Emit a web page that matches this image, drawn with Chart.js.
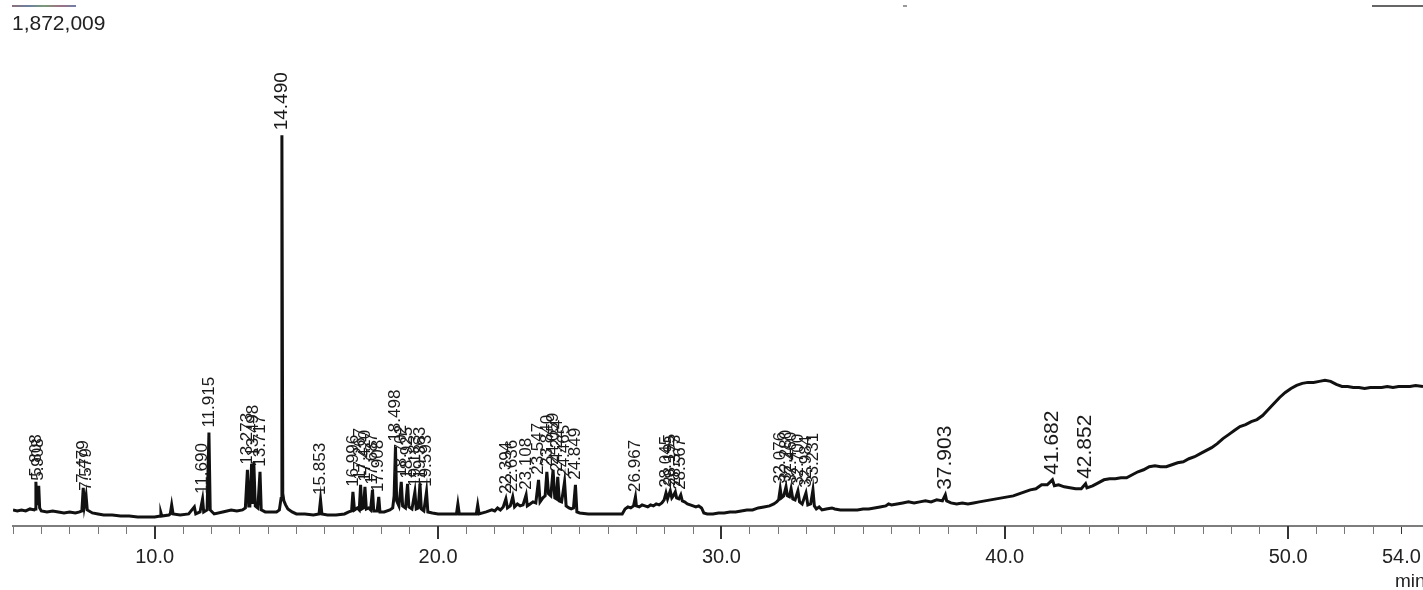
<!DOCTYPE html>
<html>
<head>
<meta charset="utf-8">
<script src="https://cdn.jsdelivr.net/npm/chart.js@4.4.1/dist/chart.umd.min.js"></script>
<style>
  html, body { margin: 0; padding: 0; background: #fff; }
  #wrap { position: relative; width: 1423px; height: 590px; overflow: hidden; }
  #chart { position: absolute; left: 0; top: 0; }
  .scaleTop { position: absolute; left: 12px; top: 11px; font: 21px 'Liberation Sans', Arial, sans-serif; color: #222; }
  .unit { position: absolute; left: 1395px; top: 570px; font: 19px 'Liberation Sans', Arial, sans-serif; color: #222; }
  .rule { position: absolute; height: 2px; }
</style>
</head>
<body>
<div id="wrap">
  <canvas id="chart" width="1423" height="590"></canvas>
  <div class="rule" style="left:12px;top:5px;width:64px;background:linear-gradient(90deg,#8c6f7a,#6d7fa0,#7a9a7a,#a07080,#6f80a8);"></div>
  <div class="rule" style="left:1372px;top:5px;width:51px;background:#666;"></div>
  <div class="rule" style="left:903px;top:5px;width:4px;background:#999;"></div>
  <div class="scaleTop">1,872,009</div>
  <div class="unit">min</div>
</div>
<script>
// retention time (min) / detector counts
const tracePoints = [
  [5.00,64000],[5.15,60000],[5.30,64000],[5.45,60000],[5.60,68000],[5.75,64000],[5.78,68000],[5.808,176000],[5.84,88000],[5.88,96000],
  [5.908,160000],[5.94,72000],[6.00,60000],[6.20,56000],[6.40,60000],[6.60,56000],[6.80,52000],[7.00,56000],[7.20,52000],[7.35,56000],
  [7.43,60000],[7.479,152000],[7.52,80000],[7.579,120000],[7.62,64000],[7.80,52000],[8.00,48000],[8.20,44000],[8.50,44000],[8.80,40000],
  [9.10,40000],[9.40,36000],[9.70,36000],[10.00,36000],[10.20,40000],[10.22,52000],[10.25,40000],[10.50,44000],[10.55,48000],[10.60,84000],
  [10.65,48000],[10.90,44000],[11.20,48000],[11.40,76000],[11.45,48000],[11.60,56000],[11.690,108000],[11.73,56000],[11.85,64000],[11.915,372000],
  [11.96,64000],[12.10,48000],[12.40,56000],[12.70,64000],[12.90,60000],[13.10,64000],[13.20,72000],[13.273,224000],[13.32,80000],[13.36,80000],
  [13.420,248000],[13.46,88000],[13.498,256000],[13.55,80000],[13.64,72000],[13.717,216000],[13.76,64000],[13.90,56000],[14.10,56000],[14.30,56000],
  [14.40,64000],[14.46,110000],[14.490,1556000],[14.52,130000],[14.56,100000],[14.62,84000],[14.70,68000],[14.85,56000],[15.00,48000],
  [15.30,48000],[15.60,44000],[15.80,48000],[15.853,104000],[15.90,48000],[16.10,44000],[16.40,44000],[16.70,48000],[16.85,56000],[16.95,60000],
  [16.996,136000],[17.05,64000],[17.15,72000],[17.22,64000],[17.267,164000],[17.31,68000],[17.37,72000],[17.420,156000],[17.47,68000],[17.55,72000],
  [17.62,64000],[17.687,144000],[17.73,60000],[17.85,60000],[17.908,116000],[17.95,56000],[18.10,56000],[18.30,64000],[18.40,72000],[18.45,120000],
  [18.498,316000],[18.54,100000],[18.62,80000],[18.702,176000],[18.75,80000],[18.85,72000],[18.925,168000],[18.97,76000],[19.08,68000],[19.183,136000],
  [19.23,68000],[19.30,72000],[19.363,168000],[19.41,68000],[19.50,60000],[19.593,136000],[19.64,56000],[19.80,52000],[20.00,48000],[20.30,48000],
  [20.65,48000],[20.70,88000],[20.75,48000],[21.00,48000],[21.35,48000],[21.40,84000],[21.45,48000],[21.70,56000],[21.90,64000],[22.00,60000],
  [22.10,72000],[22.20,64000],[22.30,76000],[22.394,108000],[22.45,72000],[22.55,80000],[22.636,116000],[22.70,76000],[22.80,88000],[22.90,80000],
  [23.00,84000],[23.108,124000],[23.15,80000],[23.25,88000],[23.35,96000],[23.45,92000],[23.547,184000],[23.60,96000],[23.70,112000],[23.78,120000],
  [23.840,216000],[23.90,128000],[23.98,120000],[24.059,224000],[24.12,112000],[24.18,108000],[24.224,196000],[24.28,100000],[24.36,96000],[24.465,176000],
  [24.52,80000],[24.62,72000],[24.70,68000],[24.78,72000],[24.849,164000],[24.90,56000],[25.00,52000],[25.30,48000],[25.60,48000],[25.90,48000],
  [26.20,48000],[26.50,48000],[26.60,68000],[26.70,76000],[26.80,72000],[26.90,80000],[26.967,116000],[27.00,80000],[27.10,76000],[27.20,84000],
  [27.30,80000],[27.40,76000],[27.50,84000],[27.60,80000],[27.70,88000],[27.80,84000],[27.90,92000],[27.98,104000],[28.045,132000],[28.10,108000],
  [28.195,140000],[28.25,112000],[28.30,120000],[28.373,136000],[28.42,112000],[28.50,108000],[28.567,124000],[28.62,100000],[28.70,96000],[28.80,88000],
  [28.90,84000],[29.00,80000],[29.10,76000],[29.20,80000],[29.30,72000],[29.38,52000],[29.50,48000],[29.70,48000],[29.90,52000],[30.10,52000],
  [30.30,56000],[30.50,56000],[30.70,60000],[30.90,64000],[31.10,64000],[31.30,72000],[31.50,76000],[31.70,80000],[31.85,88000],[31.95,96000],
  [32.02,104000],[32.076,148000],[32.12,112000],[32.20,120000],[32.280,156000],[32.33,120000],[32.40,116000],[32.460,148000],[32.52,108000],[32.60,104000],
  [32.700,140000],[32.76,96000],[32.85,88000],[32.984,132000],[33.05,84000],[33.15,88000],[33.231,144000],[33.28,80000],[33.35,68000],[33.45,76000],
  [33.55,64000],[33.70,68000],[33.90,72000],[34.00,68000],[34.20,64000],[34.40,64000],[34.60,64000],[34.80,64000],[35.00,68000],[35.20,68000],
  [35.40,72000],[35.60,76000],[35.80,80000],[35.90,88000],[36.00,84000],[36.20,88000],[36.40,92000],[36.60,96000],[36.80,92000],[37.00,96000],
  [37.20,100000],[37.40,96000],[37.60,104000],[37.80,100000],[37.903,124000],[37.95,100000],[38.10,92000],[38.30,88000],[38.50,92000],[38.70,88000],
  [38.90,92000],[39.10,96000],[39.30,100000],[39.50,104000],[39.70,108000],[39.90,112000],[40.10,116000],[40.30,120000],[40.50,128000],[40.70,136000],
  [40.90,144000],[41.10,148000],[41.30,164000],[41.50,164000],[41.682,184000],[41.75,160000],[41.90,164000],[42.10,156000],[42.30,152000],[42.50,148000],
  [42.70,148000],[42.852,168000],[42.90,152000],[43.10,160000],[43.30,172000],[43.50,184000],[43.70,188000],[43.90,188000],[44.10,192000],[44.30,192000],
  [44.50,204000],[44.70,216000],[44.90,224000],[45.10,236000],[45.30,240000],[45.50,236000],[45.70,236000],[45.90,244000],[46.10,252000],[46.30,256000],
  [46.50,268000],[46.70,276000],[46.90,288000],[47.10,300000],[47.30,312000],[47.50,328000],[47.70,348000],[47.90,364000],[48.10,380000],[48.30,396000],
  [48.50,404000],[48.70,416000],[48.90,424000],[49.10,440000],[49.30,464000],[49.50,488000],[49.70,512000],[49.90,532000],[50.10,548000],[50.30,560000],
  [50.50,568000],[50.70,572000],[50.90,572000],[51.10,576000],[51.30,580000],[51.50,576000],[51.70,564000],[51.90,556000],[52.10,556000],[52.30,552000],
  [52.50,552000],[52.70,548000],[52.90,552000],[53.10,552000],[53.30,552000],[53.50,556000],[53.70,552000],[53.90,556000],[54.10,556000],[54.30,556000],
  [54.50,560000],[54.76,556000]
];

// peaks that carry a retention-time label
const peakRT = [
  5.808, 5.908, 7.479, 7.579, 11.690, 11.915, 13.273, 13.498, 13.717, 14.490,
  15.853, 16.996, 17.267, 17.420, 17.687, 17.908, 18.498, 18.702, 18.925, 19.183,
  19.363, 19.593, 22.394, 22.636, 23.108, 23.547, 23.840, 24.059, 24.224, 24.465,
  24.849, 26.967, 28.045, 28.195, 28.373, 28.567, 32.076, 32.280, 32.460, 32.700,
  32.984, 33.231, 37.903, 41.682, 42.852
];

const labelledTicks = [10, 20, 30, 40, 50, 54];
const majorTicks = [10, 20, 30, 40, 50];
const yMax = 1872009;

const FONT = "'Liberation Sans', Arial, sans-serif";

const peakLabels = {
  id: 'peakLabels',
  afterDatasetsDraw(chart) {
    const ctx = chart.ctx;
    const pts = chart.getDatasetMeta(0).data;
    ctx.save();
    ctx.fillStyle = '#1a1a1a';
    ctx.textAlign = 'left';
    ctx.textBaseline = 'middle';
    peakRT.forEach(rt => {
      const i = tracePoints.findIndex(p => p[0] === rt);
      if (i < 0) return;
      const el = pts[i];
      let size = 17;
      if (rt > 35) size = 21;
      else if (rt === 14.490) size = 19;
      ctx.font = size + 'px ' + FONT;
      ctx.save();
      ctx.translate(el.x, el.y - 5);
      ctx.rotate(-Math.PI / 2);
      ctx.fillText(rt.toFixed(3), 0, 0);
      ctx.restore();
    });
    ctx.restore();
  }
};

const majorTickMarks = {
  id: 'majorTickMarks',
  afterDraw(chart) {
    const sx = chart.scales.x;
    const ctx = chart.ctx;
    ctx.save();
    ctx.strokeStyle = '#333';
    ctx.lineWidth = 2;
    majorTicks.forEach(v => {
      const px = Math.round(sx.getPixelForValue(v));
      ctx.beginPath();
      ctx.moveTo(px, sx.top);
      ctx.lineTo(px, sx.top + 13);
      ctx.stroke();
    });
    ctx.restore();
  }
};

new Chart(document.getElementById('chart'), {
  type: 'line',
  data: {
    datasets: [{
      data: tracePoints.map(p => ({ x: p[0], y: p[1] })),
      borderColor: '#111',
      borderWidth: 3,
      pointRadius: 0,
      tension: 0,
      fill: false
    }]
  },
  options: {
    responsive: false,
    animation: false,
    events: [],
    layout: { padding: { top: 56, left: 13, right: 0, bottom: 10 } },
    plugins: { legend: { display: false }, tooltip: { enabled: false } },
    scales: {
      x: {
        type: 'linear',
        min: 5.0,
        max: 54.76,
        afterFit: s => { s.paddingLeft = 0; s.paddingRight = 0; },
        border: { display: true, color: '#7d7d7d', width: 2 },
        grid: {
          drawOnChartArea: false,
          drawTicks: true,
          tickLength: 8,
          tickColor: c => labelledTicks.includes(c.tick && c.tick.value) ? '#333' : '#777',
          tickWidth: 1
        },
        ticks: {
          stepSize: 1,
          autoSkip: false,
          maxRotation: 0,
          minRotation: 0,
          includeBounds: false,
          padding: 11,
          color: '#222',
          font: { family: FONT, size: 20 },
          callback: v => labelledTicks.includes(v) ? v.toFixed(1) : ''
        }
      },
      y: {
        display: false,
        min: 0,
        max: yMax
      }
    }
  },
  plugins: [peakLabels, majorTickMarks]
});
</script>
</body>
</html>
